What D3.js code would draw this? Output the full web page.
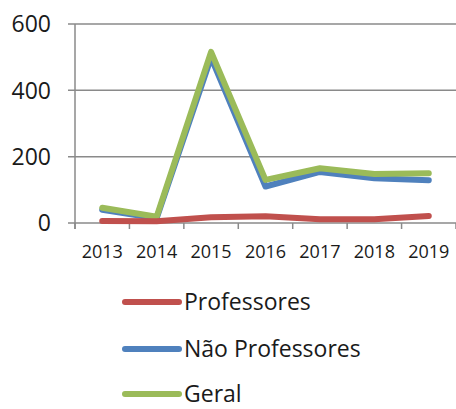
<!DOCTYPE html>
<html><head><meta charset="utf-8">
<script src="https://cdn.jsdelivr.net/npm/d3@7"></script>
<style>body{margin:0;background:#fff}svg{display:block}</style>
</head><body>
<svg id="c" width="456" height="409"></svg>
<script>
const years = ["2013","2014","2015","2016","2017","2018","2019"];
const professores = [6, 5, 17, 20, 11, 11, 21];
const naoProfessores = [40, 14, 499, 110, 154, 135, 129];
const geral = [46, 19, 516, 130, 165, 148, 150];
const yTicks = [0, 200, 400, 600];
const seriesNames = ["Professores", "Não Professores", "Geral"];
const seriesColors = ["#C0504D", "#4F81BD", "#9BBB59"];

const svg = d3.select("#c");
const font = "'Open Sans', sans-serif";
const x = d3.scaleBand().domain(years).range([75, 456]);
const y = d3.scaleLinear().domain([0, 600]).range([223, 24]);

// gridlines
svg.append("g").selectAll("line").data(yTicks).join("line")
  .attr("x1", 68).attr("x2", 456)
  .attr("y1", d => y(d)).attr("y2", d => y(d))
  .attr("stroke", "#8a8a8a").attr("stroke-width", 1.5);

// y axis line
svg.append("line").attr("x1", 75).attr("x2", 75).attr("y1", y(600)).attr("y2", y(0) + 6)
  .attr("stroke", "#8a8a8a").attr("stroke-width", 1.5);

// y labels
svg.append("g").selectAll("text").data(yTicks).join("text")
  .attr("x", 51).attr("y", d => y(d)).attr("dy", "0.36em")
  .attr("text-anchor", "end").attr("font-family", font).attr("font-size", 23)
  .attr("fill", "#1a1a1a").text(d => d);

// x tick marks at band boundaries
const bounds = years.map(d => x(d)).concat([x(years[years.length-1]) + x.bandwidth()]);
svg.append("g").selectAll("line").data(bounds).join("line")
  .attr("x1", d => d).attr("x2", d => d).attr("y1", y(0)).attr("y2", y(0) + 6)
  .attr("stroke", "#8a8a8a").attr("stroke-width", 1.5);

// x labels
svg.append("g").selectAll("text").data(years).join("text")
  .attr("x", d => x(d) + x.bandwidth() / 2).attr("y", 258)
  .attr("text-anchor", "middle").attr("font-family", font).attr("font-size", 18)
  .attr("fill", "#1a1a1a").text(d => d);

const line = d3.line().x((d, i) => x(years[i]) + x.bandwidth() / 2).y(d => y(d));
const data = [professores, naoProfessores, geral];
[1, 2, 0].forEach(k => {
  svg.append("path").datum(data[k]).attr("d", line)
    .attr("fill", "none").attr("stroke", seriesColors[k]).attr("stroke-width", 6)
    .attr("stroke-linejoin", "round").attr("stroke-linecap", "round");
});

// legend
const ly = [302, 349, 394];
seriesNames.forEach((n, i) => {
  svg.append("line").attr("x1", 125).attr("x2", 179).attr("y1", ly[i]).attr("y2", ly[i])
    .attr("stroke", seriesColors[i]).attr("stroke-width", 6).attr("stroke-linecap", "round");
  svg.append("text").attr("x", 184).attr("y", ly[i]).attr("dy", "0.36em")
    .attr("font-family", font).attr("font-size", 23).attr("fill", "#1a1a1a").text(n);
});
</script>
</body></html>
